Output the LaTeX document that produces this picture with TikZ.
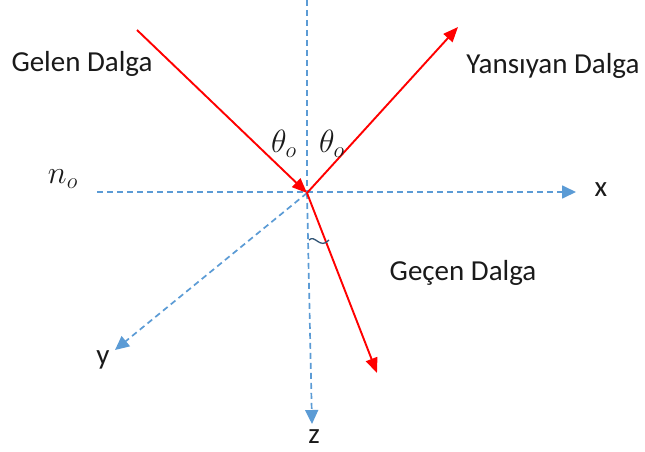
\documentclass[tikz,border=0pt]{standalone}
\usepackage{amsmath}
\usepackage{fontspec}
\setmainfont{Carlito}
\usetikzlibrary{arrows.meta}
\definecolor{axisblue}{HTML}{5B9BD5}
\definecolor{rayred}{HTML}{FF0000}
\definecolor{txt}{HTML}{1A1A1A}
\tikzset{
  axis/.style={axisblue, line width=1.7pt, dash pattern=on 6pt off 4pt, -{Triangle[length=14pt,width=13pt]}},
  axisline/.style={axisblue, line width=1.7pt, dash pattern=on 6pt off 4pt},
  ray/.style={rayred, line width=1.9pt, -{Triangle[length=15pt,width=12pt]}},
  lbl/.style={text=txt, font=\fontsize{29}{34}\selectfont, inner sep=0pt},
  mlbl/.style={text=txt, font=\fontsize{20.74}{25}\selectfont, inner sep=0pt, scale=1.55}
}
\begin{document}
\begin{tikzpicture}[x=1pt,y=-1pt]
\useasboundingbox (0,0) rectangle (645,452);
\coordinate (O) at (307,193);
\coordinate (ztop) at (307,0);
\coordinate (xstart) at (97,192);
\coordinate (xend) at (576,192);
\coordinate (yend) at (115,350);
\coordinate (zend) at (312,424);
\coordinate (inc) at (137,30);
\coordinate (refl) at (458,27);
\coordinate (tran) at (377,373);
% axes
\draw[axisline] (ztop) -- (O);
\draw[axis] (O) -- (zend);
\draw[axis] (xstart) -- (xend);
\draw[axis] (O) -- (yend);
% rays
\draw[ray] (inc) -- (O);
\draw[ray] (O) -- (refl);
\draw[ray] (O) -- (tran);
% small angle mark
\draw[axisblue!55!black, line width=1.3pt] (309,240) .. controls (315,234) and (320,250) .. (329,240);
% labels
\node[lbl] (gelen) at (82,64) {Gelen Dalga};
\node[lbl] (yans) at (553,66) {Yansıyan Dalga};
\node[lbl] (gecen) at (463,273) {Geçen Dalga};
\node[lbl] (xl) at (601,190) {x};
\node[lbl] (yl) at (103,360) {y};
\node[lbl] (zl) at (314,437) {z};
\node[mlbl] (t1) at (284,144) {$\theta_o$};
\node[mlbl] (t2) at (332,144) {$\theta_o$};
\node[mlbl] (no) at (63,179) {$n_o$};
\end{tikzpicture}
\end{document}
